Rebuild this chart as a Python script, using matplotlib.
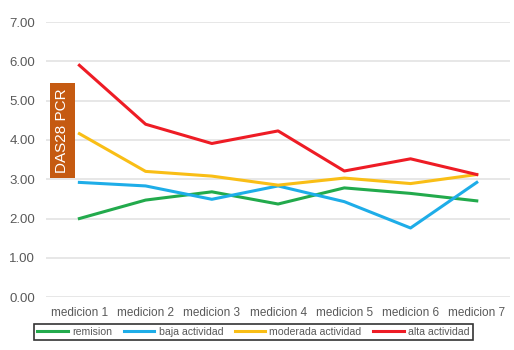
import numpy as np
import matplotlib
matplotlib.use("Agg")
import matplotlib.pyplot as plt

plt.rcParams['font.family'] = ['Liberation Sans', 'DejaVu Sans']

mediciones = ["medicion 1", "medicion 2", "medicion 3", "medicion 4",
              "medicion 5", "medicion 6", "medicion 7"]
remision = [2.00, 2.47, 2.68, 2.37, 2.78, 2.64, 2.45]
baja = [2.92, 2.83, 2.49, 2.83, 2.43, 1.76, 2.92]
moderada = [4.16, 3.20, 3.08, 2.85, 3.03, 2.89, 3.12]
alta = [5.90, 4.40, 3.91, 4.23, 3.21, 3.52, 3.12]
nombres = ["remision", "baja actividad", "moderada actividad", "alta actividad"]
colores = ["#22AA4C", "#1EADE8", "#F9BE16", "#EE1C25"]

fig = plt.figure(figsize=(5.14, 3.5), dpi=100)
ax = fig.add_axes([0.09, 0.151, 0.902, 0.786])

x = np.arange(len(mediciones))
for serie, nombre, c in zip([remision, baja, moderada, alta], nombres, colores):
    ax.plot(x, serie, color=c, lw=2.2, label=nombre)

ax.set_xlim(-0.5, 6.5)
ax.set_ylim(0, 7)
ax.set_yticks(np.arange(0, 8, 1))
ax.set_yticklabels(["%.2f" % v for v in np.arange(0, 8, 1)])
ax.set_xticks(x)
ax.set_xticklabels(mediciones)
ax.tick_params(axis='both', length=0, colors="#595959", labelsize=8.5)
ax.tick_params(axis='y', pad=8, labelsize=9.5)
ax.tick_params(axis='x', pad=7)
ax.grid(axis='y', color="#E3E3E3", lw=1.2)
ax.set_axisbelow(True)
for s in ax.spines.values():
    s.set_visible(False)

# etiqueta vertical
fig.text(0.121, 0.627, "DAS28 PCR", rotation=90, color="white", fontsize=11,
         ha='center', va='center',
         bbox=dict(boxstyle="square,pad=0.35", fc="#C55A11", ec="none"))

leg = fig.legend(loc='center', bbox_to_anchor=(0.493, 0.051), ncol=4,
                 frameon=True, fancybox=False, fontsize=7.6, handlelength=2.9,
                 columnspacing=1.1, handletextpad=0.4, borderpad=0.3,
                 labelcolor="#595959")
leg.get_frame().set_edgecolor("black")
leg.get_frame().set_linewidth(1.2)

fig.savefig("out.png", dpi=100)
